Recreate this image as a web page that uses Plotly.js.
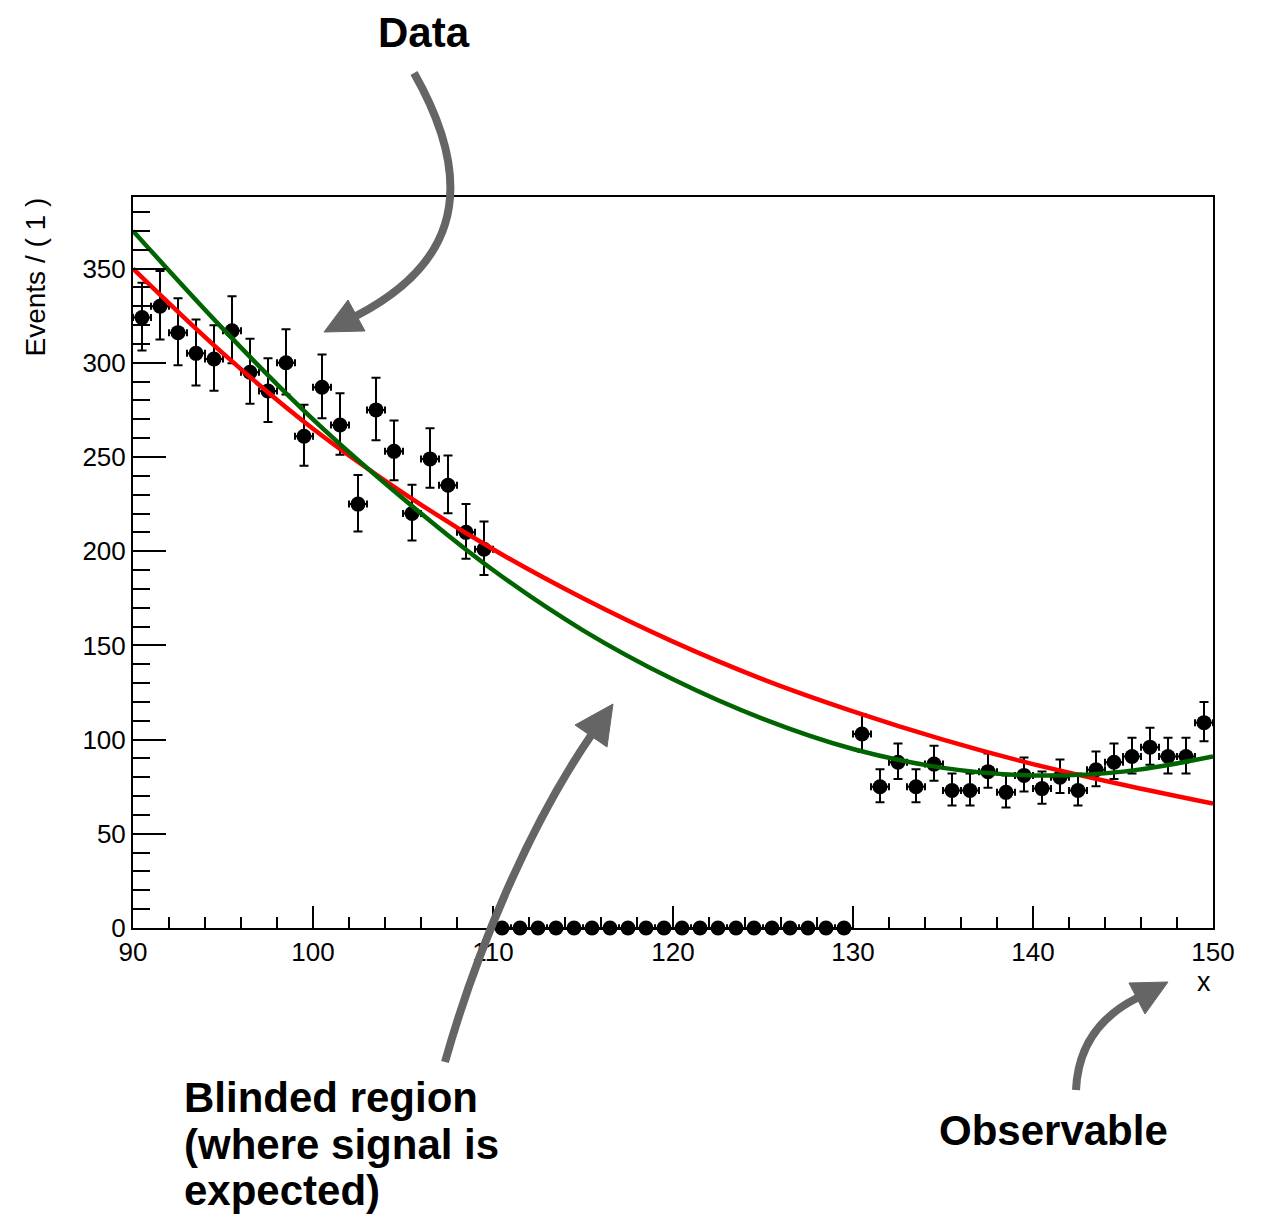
<!DOCTYPE html>
<html>
<head>
<meta charset="utf-8">
<script src="https://cdn.plot.ly/plotly-3.0.1.min.js"></script>
<style>html,body{margin:0;padding:0;background:#fff;}#chart{width:1264px;height:1218px;}</style>
</head>
<body>
<div id="chart"></div>
<script>
// ---- data ----
const binCenters = [
  90.5, 91.5, 92.5, 93.5, 94.5, 95.5, 96.5, 97.5, 98.5, 99.5,
  100.5, 101.5, 102.5, 103.5, 104.5, 105.5, 106.5, 107.5, 108.5, 109.5,
  110.5, 111.5, 112.5, 113.5, 114.5, 115.5, 116.5, 117.5, 118.5, 119.5,
  120.5, 121.5, 122.5, 123.5, 124.5, 125.5, 126.5, 127.5, 128.5, 129.5,
  130.5, 131.5, 132.5, 133.5, 134.5, 135.5, 136.5, 137.5, 138.5, 139.5,
  140.5, 141.5, 142.5, 143.5, 144.5, 145.5, 146.5, 147.5, 148.5, 149.5
];
const countsLow   = [324, 330, 316, 305, 302, 317, 295, 285, 300, 261, 287, 267, 225, 275, 253, 220, 249, 235, 210, 201];
const countsBlind = [0, 0, 0, 0, 0, 0, 0, 0, 0, 0, 0, 0, 0, 0, 0, 0, 0, 0, 0, 0];
const countsHigh  = [103, 75, 88, 75, 87, 73, 73, 83, 72, 81, 74, 80, 73, 84, 88, 91, 96, 91, 91, 109];

const errUpLow    = [18.5, 18.7, 18.3, 18.0, 17.9, 18.3, 17.7, 17.4, 17.8, 16.7, 17.4, 16.8, 15.5, 17.1, 16.4, 15.3, 16.3, 15.8, 15.0, 14.7];
const errDownLow  = [17.5, 17.7, 17.3, 17.0, 16.9, 17.3, 16.7, 16.4, 16.8, 15.7, 16.4, 15.8, 14.5, 16.1, 15.4, 14.3, 15.3, 14.8, 14.0, 13.7];
const errBlind    = [0, 0, 0, 0, 0, 0, 0, 0, 0, 0, 0, 0, 0, 0, 0, 0, 0, 0, 0, 0];
const errUpHigh   = [10.6, 9.2, 9.9, 9.2, 9.8, 9.0, 9.0, 9.6, 9.0, 9.5, 9.1, 9.4, 9.0, 9.7, 9.9, 10.0, 10.3, 10.0, 10.0, 10.9];
const errDownHigh = [9.6, 8.2, 8.9, 8.2, 8.8, 8.0, 8.0, 8.6, 8.0, 8.5, 8.1, 8.4, 8.0, 8.7, 8.9, 9.0, 9.3, 9.0, 9.0, 9.9];
const binHalfWidth = 0.5;

const curveX     = [90, 95, 100, 105, 110, 115, 120, 125, 130, 135, 140, 145, 150];
const curveRed   = [350, 305, 265, 231, 201, 175, 152, 132, 115, 100, 87, 76, 66];
const curveGreen = [370, 318, 270, 228, 190, 158, 132, 111, 95, 85, 81, 83, 91];

const xAxisTitle = "x";
const yAxisTitle = "Events / ( 1 )";
const noteData = "Data";
const noteBlind = ["Blinded region", "(where signal is", "expected)"];
const noteObs = "Observable";

// ---- layout helpers (pixel -> paper) ----
const PL = 133, PR = 1213, PT = 197, PB = 928;
const fx = x => (x - PL) / (PR - PL);
const fy = y => (PB - y) / (PB - PT);
const pt = (p) => fx(p[0]).toFixed(5) + ',' + fy(p[1]).toFixed(5);
function curvePath(p0, p1, p2, p3) {
  return 'M' + pt(p0) + ' C' + pt(p1) + ' ' + pt(p2) + ' ' + pt(p3);
}
function triPath(a, b, c) {
  return 'M' + pt(a) + ' L' + pt(b) + ' L' + pt(c) + ' Z';
}
const GRAY = '#656565';
function arrowShapes(p0, p1, p2, p3, tip, c1, c2) {
  return [
    {type: 'path', xref: 'paper', yref: 'paper', layer: 'above',
     path: curvePath(p0, p1, p2, p3), line: {color: GRAY, width: 8}},
    {type: 'path', xref: 'paper', yref: 'paper', layer: 'above',
     path: triPath(tip, c1, c2), fillcolor: GRAY, line: {color: GRAY, width: 1}}
  ];
}

const shapes = [].concat(
  arrowShapes([414, 73], [485, 198], [445, 270], [356, 316], [324, 332], [348, 300], [365, 331]),
  arrowShapes([445, 1062], [476, 952], [529, 826], [591, 735.5], [613, 704], [575, 725], [607, 747]),
  arrowShapes([1076, 1090], [1078, 1045], [1101, 1016], [1137, 998], [1168, 982], [1129, 983], [1145, 1014])
);

const FONT = 'Liberation Sans, Arial, Helvetica, sans-serif';
const bold = {family: FONT, size: 42, color: '#000', weight: 700};
function note(text, xpx, ypx, xanchor) {
  return {text: text, xref: 'paper', yref: 'paper', x: fx(xpx), y: fy(ypx),
          xanchor: xanchor, yanchor: 'middle', showarrow: false, font: bold};
}
const annotations = [
  note(noteData, 424, 32, 'center'),
  note(noteBlind[0], 182, 1097, 'left'),
  note(noteBlind[1], 182, 1144, 'left'),
  note(noteBlind[2], 182, 1190, 'left'),
  note(noteObs, 937, 1130, 'left'),
  {text: yAxisTitle, xref: 'paper', yref: 'paper', x: fx(35), y: fy(196), textangle: -90,
   xanchor: 'center', yanchor: 'top', showarrow: false, font: {family: FONT, size: 28, color: '#000'}},
  {text: xAxisTitle, xref: 'paper', yref: 'paper', x: fx(1213), y: fy(982),
   xanchor: 'right', yanchor: 'middle', showarrow: false, font: {family: FONT, size: 27, color: '#000'}}
];

const counts = countsLow.concat(countsBlind, countsHigh);
const errUp = errUpLow.concat(errBlind, errUpHigh);
const errDown = errDownLow.concat(errBlind, errDownHigh);

const traces = [
  {type: 'scatter', mode: 'markers', x: binCenters, y: counts, cliponaxis: false,
   marker: {color: '#000', size: 15},
   error_y: {type: 'data', array: errUp, arrayminus: errDown, symmetric: false, color: '#000', thickness: 2, width: 4.5},
   error_x: {type: 'constant', value: binHalfWidth, color: '#000', thickness: 2, width: 3.5},
   hoverinfo: 'x+y', showlegend: false},
  {type: 'scatter', mode: 'lines', x: curveX, y: curveRed,
   line: {color: '#ff0000', width: 4.5, shape: 'spline', smoothing: 1}, showlegend: false},
  {type: 'scatter', mode: 'lines', x: curveX, y: curveGreen,
   line: {color: '#006400', width: 4.5, shape: 'spline', smoothing: 1}, showlegend: false}
];

const tickFont = {family: FONT, size: 26, color: '#000'};
const layout = {
  width: 1264, height: 1218,
  margin: {l: PL, r: 1264 - PR, t: PT, b: 1218 - PB, pad: 0},
  paper_bgcolor: '#fff', plot_bgcolor: '#fff',
  showlegend: false,
  xaxis: {range: [90, 150], tick0: 90, dtick: 10, ticks: 'inside', ticklen: 22, tickwidth: 2, tickcolor: '#000',
          minor: {dtick: 2, ticks: 'inside', ticklen: 11, tickwidth: 2, tickcolor: '#000'},
          showline: true, linecolor: '#000', linewidth: 2, mirror: true,
          showgrid: false, zeroline: false, tickfont: tickFont, ticklabelstandoff: 0},
  yaxis: {range: [0, 388], tick0: 0, dtick: 50, ticks: 'inside', ticklen: 33, tickwidth: 2, tickcolor: '#000',
          minor: {dtick: 10, ticks: 'inside', ticklen: 17, tickwidth: 2, tickcolor: '#000'},
          showline: true, linecolor: '#000', linewidth: 2, mirror: true,
          showgrid: false, zeroline: false, tickfont: tickFont, ticklabelstandoff: 0},
  shapes: shapes,
  annotations: annotations
};

Plotly.newPlot('chart', traces, layout, {staticPlot: true, displayModeBar: false});
</script>
</body>
</html>
